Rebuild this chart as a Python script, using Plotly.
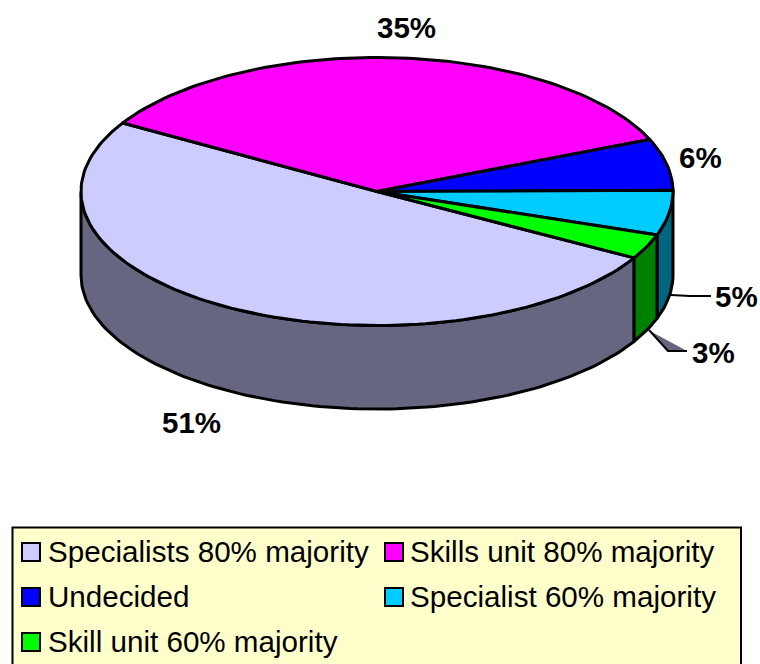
"""3D-look pie of majority preferences, drawn on a pixel-sized cartesian plot."""

import numpy as np
import plotly.graph_objects as go

CATEGORIES = [
    "Specialists 80% majority",
    "Skills unit 80% majority",
    "Undecided",
    "Specialist 60% majority",
    "Skill unit 60% majority",
]
VALUES = [50.3, 35.1, 6.2, 5.4, 3.0]
PCT_LABELS = ["51%", "35%", "6%", "5%", "3%"]
TOP_COLORS = ["#CCCCFF", "#FF00FF", "#0000FF", "#00CCFF", "#00FF00"]
SIDE_COLORS = ["#666680", "#800080", "#000080", "#006680", "#008000"]

LABEL_POS = [(191, 422), (406, 27), (700, 157), (736, 296), (713, 352)]
LEGEND_POS = [(21, 552), (384, 552), (21, 597), (384, 597), (21, 642)]

CX, CY = 377, 191.5
RX, RY = 296, 134
DEPTH = 83.5
START_DEG = -29.7
FONT = "Liberation Sans"


def arc(t1, t2, dy=0.0):
    n = max(int(abs(t2 - t1) / 1.5) + 2, 2)
    t = np.radians(np.linspace(t1, t2, n))
    return CX + RX * np.cos(t), CY + dy - RY * np.sin(t)


def closed_poly(x, y, fill, width=3.0):
    return go.Scatter(
        x=x, y=y, mode="lines", fill="toself", fillcolor=fill,
        line=dict(color="black", width=width), hoverinfo="skip", showlegend=False,
    )


fig = go.Figure()

spans = []
angle = START_DEG
for v in VALUES:
    sweep = v / sum(VALUES) * 360.0
    spans.append((angle, angle - sweep))
    angle -= sweep

# side walls first, only the front half of the disc shows
for (t1, t2), color in zip(spans, SIDE_COLORS):
    for shift in (0, 360):
        a, b = min(t1 + shift, 0), max(t2 + shift, -180)
        if a > b:
            xt, yt = arc(a, b)
            xb, yb = arc(b, a, DEPTH)
            fig.add_trace(closed_poly(
                np.r_[xt, xb, xt[0]], np.r_[yt, yb, yt[0]], color))

# top face
for (t1, t2), color in zip(spans, TOP_COLORS):
    xa, ya = arc(t1, t2)
    fig.add_trace(closed_poly(np.r_[CX, xa, CX], np.r_[CY, ya, CY], color))

# leader lines
fig.add_trace(go.Scatter(
    x=[671, 690, 711], y=[295, 296, 296], mode="lines",
    line=dict(color="black", width=2), hoverinfo="skip", showlegend=False,
))
fig.add_trace(go.Scatter(
    x=[650, 687, 668, 650], y=[331, 351, 351, 331], mode="lines", fill="toself",
    fillcolor=SIDE_COLORS[0], line=dict(color="rgba(0,0,0,0)", width=0),
    hoverinfo="skip", showlegend=False,
))
fig.add_trace(go.Scatter(
    x=[649, 668, 687], y=[330, 351, 351], mode="lines",
    line=dict(color="black", width=2), hoverinfo="skip", showlegend=False,
))

for text, (x, y) in zip(PCT_LABELS, LABEL_POS):
    fig.add_annotation(
        x=x, y=y, text=f"<b>{text}</b>", showarrow=False,
        font=dict(family=FONT, size=29.5, color="black"),
    )

# legend box, runs off the bottom of the picture
shapes = [dict(
    type="rect", x0=12.5, x1=741, y0=527.5, y1=680, layer="below",
    fillcolor="#FFFFCC", line=dict(color="black", width=2),
)]
for name, color, (x, y) in zip(CATEGORIES, TOP_COLORS, LEGEND_POS):
    shapes.append(dict(
        type="rect", x0=x + 1, x1=x + 19, y0=y - 9, y1=y + 9,
        fillcolor=color, line=dict(color="black", width=2),
    ))
    fig.add_annotation(
        x=x + (24.5 if x < 100 else 23.5), y=y - 0.5, text=name, showarrow=False, xanchor="left",
        font=dict(family=FONT, size=29.6, color="black"),
    )

fig.update_layout(
    width=760,
    height=664,
    margin=dict(l=0, r=0, t=0, b=0),
    paper_bgcolor="white",
    plot_bgcolor="white",
    showlegend=False,
    shapes=shapes,
    xaxis=dict(visible=False, range=[0, 760], fixedrange=True),
    yaxis=dict(visible=False, range=[664, 0], fixedrange=True),
)
fig.write_html("out.html", post_script="document.body.style.margin='0';", config=dict(displayModeBar=False))
